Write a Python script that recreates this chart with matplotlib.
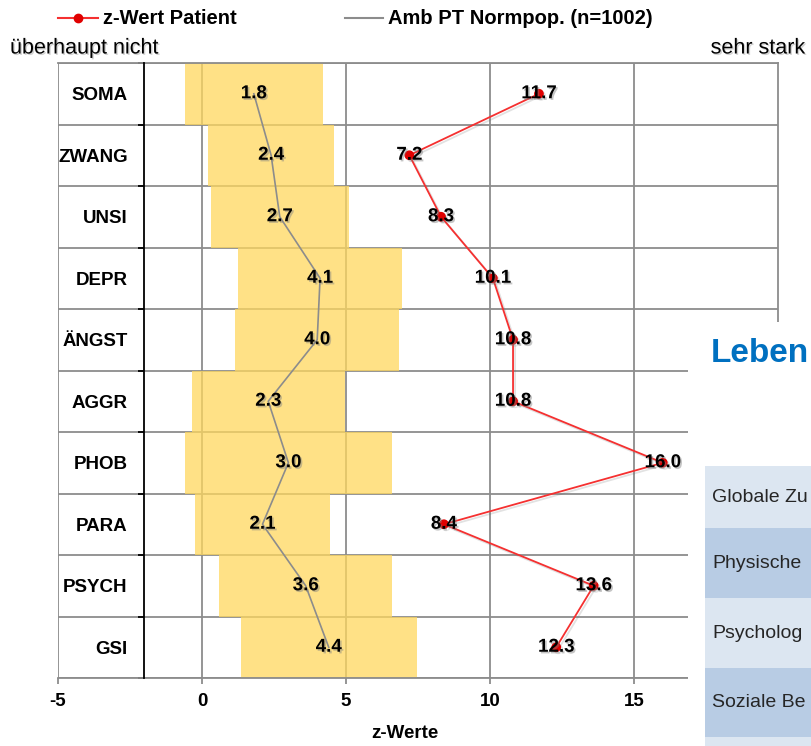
import numpy as np
import matplotlib
matplotlib.use('Agg')
import matplotlib.pyplot as plt
import matplotlib.patheffects as pe
from matplotlib.lines import Line2D
from matplotlib.patches import Rectangle

plt.rcParams['font.family'] = ['Liberation Sans', 'DejaVu Sans']
plt.rcParams['axes.unicode_minus'] = False

categories = ['SOMA', 'ZWANG', 'UNSI', 'DEPR', 'ÄNGST', 'AGGR', 'PHOB', 'PARA', 'PSYCH', 'GSI']
patient = [11.7, 7.2, 8.3, 10.1, 10.8, 10.8, 16.0, 8.4, 13.6, 12.3]
norm_mean = [1.8, 2.4, 2.7, 4.1, 4.0, 2.3, 3.0, 2.1, 3.6, 4.4]
norm_sd = [2.4, 2.2, 2.4, 2.85, 2.85, 2.65, 3.6, 2.35, 3.0, 3.05]
x_ticks = [-5, 0, 5, 10, 15]
# visible part of the page next to the chart
heading = 'Leben'
table_rows = ['Globale Zu', 'Physische', 'Psycholog', 'Soziale Be']

W, H = 811, 746


def fx(px):
    return px / W


def fy(py):
    return 1 - py / H


fig = plt.figure(figsize=(W / 100, H / 100), dpi=100)
ax = fig.add_axes([fx(58), fy(678), 720 / W, 615 / H])

# category axis crosses at -2 (set first, it resets the ticks)
ax.spines['left'].set_position(('data', -2))
ax.spines['left'].set_color('black')
ax.spines['left'].set_linewidth(1.3)
ax.spines['left'].set_zorder(3)
for s in ['top', 'right', 'bottom']:
    ax.spines[s].set_color('#8C8C8C')
    ax.spines[s].set_linewidth(1.3)

y = np.arange(len(categories))
mean = np.array(norm_mean)
sd = np.array(norm_sd)

ax.barh(y, 2 * sd, left=mean - sd, height=1.0, color='#FFD85E', alpha=0.75, zorder=2)
ax.plot(norm_mean, y, color='#8C8C8C', lw=1.2, zorder=3)
ax.plot(patient, y, color='#F53030', lw=1.3, marker='o', ms=6, mec='#E00000', mfc='#E00000', zorder=4,
        path_effects=[pe.SimpleLineShadow(offset=(1.5, -1.5), shadow_color='#606060', alpha=0.18), pe.Normal()])

shadow = [pe.withSimplePatchShadow(offset=(1.2, -1.2), shadow_rgbFace='#808080', alpha=0.45)]
for i in range(len(categories)):
    ax.text(norm_mean[i], y[i], f'{norm_mean[i]:.1f}', ha='center', va='center',
            fontsize=13.5, fontweight='bold', zorder=5, path_effects=shadow)
    ax.text(patient[i], y[i], f'{patient[i]:.1f}', ha='center', va='center',
            fontsize=13.5, fontweight='bold', zorder=5, path_effects=shadow)

ax.set_xlim(-5, 20)
ax.set_ylim(len(categories) - 0.5, -0.5)

ax.tick_params(axis='y', which='major', length=0, pad=12)
ax.tick_params(axis='y', which='minor', length=4, width=1.3, color='black', direction='out')
ax.tick_params(axis='x', which='major', length=4.5, width=1.3, color='#8C8C8C', pad=6)

ax.set_xticks(x_ticks)
ax.set_xticklabels([str(t) for t in x_ticks], fontweight='bold', fontsize=13.5)
ax.set_yticks(y)
ax.set_yticklabels(categories, fontweight='bold', fontsize=13.5)
ax.set_yticks(np.arange(-0.5, len(categories), 1), minor=True)

ax.grid(axis='x', which='major', color='#8C8C8C', lw=1.3)
ax.grid(axis='y', which='minor', color='#8C8C8C', lw=1.3)
ax.set_axisbelow(True)

fig.text(fx(405), fy(733), 'z-Werte', ha='center', va='center', fontsize=13.5, fontweight='bold')

# legend
fig.add_artist(Line2D([fx(58), fx(98)], [fy(18), fy(18)], color='#F53030', lw=1.5))
fig.add_artist(Line2D([fx(78)], [fy(18)], color='#E00000', marker='o', ms=6))
fig.text(fx(103), fy(18), 'z-Wert Patient', ha='left', va='center', fontsize=14.5, fontweight='bold')
fig.add_artist(Line2D([fx(345), fx(383)], [fy(18), fy(18)], color='#8C8C8C', lw=1.5))
fig.text(fx(388), fy(18), 'Amb PT Normpop. (n=1002)', ha='left', va='center', fontsize=14.5, fontweight='bold')

lab_shadow = [pe.withSimplePatchShadow(offset=(1, -1), shadow_rgbFace='#909090', alpha=0.4)]
fig.text(fx(10), fy(48), 'überhaupt nicht', ha='left', va='center', fontsize=15.5, path_effects=lab_shadow)
fig.text(fx(805), fy(48), 'sehr stark', ha='right', va='center', fontsize=15.5, path_effects=lab_shadow)

# page content covering the right part of the chart
fig.add_artist(Rectangle((fx(688), 0), (W - 688) / W, (H - 322) / H, transform=fig.transFigure,
                         facecolor='white', edgecolor='none', zorder=5))
fig.text(fx(711), fy(353), heading, ha='left', va='center', fontsize=24, fontweight='bold',
         color='#0070C0', zorder=6)

row_edges = [466, 528, 598, 668, 737, 746]
row_colors = ['#DCE6F1', '#B8CCE4', '#DCE6F1', '#B8CCE4', '#DCE6F1']
for k in range(len(row_colors)):
    top, bot = row_edges[k], row_edges[k + 1]
    fig.add_artist(Rectangle((fx(705), fy(bot)), (W - 705) / W, (bot - top) / H, transform=fig.transFigure,
                             facecolor=row_colors[k], edgecolor='none', zorder=6))
    if k < len(table_rows):
        fig.text(fx(712), fy((top + bot) / 2), table_rows[k], ha='left', va='center', fontsize=14,
                 color='#262626', zorder=7)

fig.savefig('out.png', dpi=100)
